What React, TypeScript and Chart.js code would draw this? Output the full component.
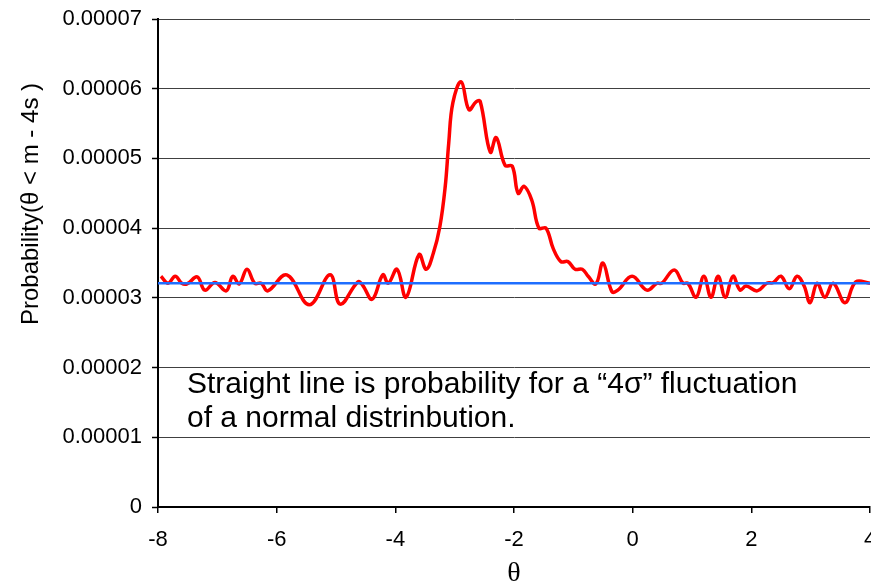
import React, { useEffect, useRef } from 'react';
import { Chart, registerables } from 'chart.js';

Chart.register(...registerables);

// theta values (x) of the red curve
const theta = [
  -7.95, -7.83, -7.71, -7.6, -7.51, -7.34, -7.21, -7.04, -6.85, -6.74,
  -6.63, -6.5, -6.37, -6.26, -6.15, -5.83, -5.45, -5.1, -4.93, -4.63,
  -4.55, -4.39, -4.21, -4.12, -3.97, -3.82, -3.6, -3.48, -3.36, -3.25,
  -3.16, -3.1, -3.03, -2.89, -2.76, -2.64, -2.57, -2.4, -2.3, -2.15,
  -2.03, -1.93, -1.83, -1.7, -1.58, -1.46, -1.34, -1.21, -1.09, -0.97,
  -0.85, -0.75, -0.62, -0.5, -0.35, -0.25, -0.01, 0.24, 0.41, 0.49,
  0.7, 0.85, 0.93, 1.07, 1.2, 1.32, 1.44, 1.56, 1.69, 1.81,
  1.91, 2.1, 2.26, 2.37, 2.5, 2.64, 2.77, 2.89, 2.99, 3.11,
  3.24, 3.38, 3.58, 3.76, 4.0,
];

// probability values in units of 1e-5
const probabilityE5 = [
  3.31, 3.21, 3.31, 3.21, 3.2, 3.3, 3.11, 3.22, 3.1, 3.31,
  3.2, 3.41, 3.21, 3.21, 3.1, 3.33, 2.9, 3.33, 2.91, 3.23,
  3.18, 2.98, 3.33, 3.21, 3.41, 3.01, 3.62, 3.41, 3.64, 4.02,
  4.59, 5.22, 5.8, 6.1, 5.7, 5.81, 5.82, 5.09, 5.3, 4.9,
  4.89, 4.5, 4.6, 4.4, 4.0, 4.0, 3.71, 3.52, 3.52, 3.41,
  3.41, 3.31, 3.2, 3.5, 3.09, 3.11, 3.31, 3.11, 3.21, 3.21,
  3.4, 3.21, 3.21, 3.01, 3.31, 3.01, 3.31, 3.01, 3.31, 3.11,
  3.17, 3.1, 3.21, 3.22, 3.31, 3.13, 3.31, 3.17, 2.93, 3.21,
  3.01, 3.21, 2.93, 3.23, 3.21,
];

// straight line: probability of a 4-sigma fluctuation
const baselineTheta = [-8, 4];
const baselineE5 = [3.21, 3.21];

const UNIT = 1e-5;
const xMin = -8;
const xMax = 4;
const xStep = 2;
const yMax = 7e-5;
const yStep = 1e-5;

const xTitle = 'θ';
const yTitle = 'Probability(θ < m - 4s )';
const noteLines = [
  'Straight line is probability for a \u201C4\u03C3\u201D fluctuation',
  'of a normal distrinbution.',
];

const SANS = '"Liberation Sans", Arial, Helvetica, sans-serif';
const SERIF = '"Liberation Serif", "Times New Roman", serif';

export default function App() {
  const ref = useRef<HTMLCanvasElement>(null);

  useEffect(() => {
    const canvas = ref.current;
    if (!canvas) return;

    const textPlugin = {
      id: 'extraText',
      afterDraw(chart: any) {
        const c = chart.ctx as CanvasRenderingContext2D;
        c.save();
        c.fillStyle = '#000';
        c.font = `30px ${SANS}`;
        c.textAlign = 'left';
        c.textBaseline = 'middle';
        c.fillText(noteLines[0], 187, 385);
        c.fillText(noteLines[1], 187, 419);
        c.translate(31, 204);
        c.rotate(-Math.PI / 2);
        c.textAlign = 'center';
        c.font = `24px ${SANS}`;
        c.fillText(yTitle, 0, 0);
        c.restore();
      },
    };

    const chart = new Chart(canvas, {
      type: 'line',
      data: {
        datasets: [
          {
            data: baselineTheta.map((t, i) => ({ x: t, y: baselineE5[i] * UNIT })),
            borderColor: 'rgb(30,110,255)',
            borderWidth: 2.5,
            pointRadius: 0,
            tension: 0,
          },
          {
            data: theta.map((t, i) => ({ x: t, y: probabilityE5[i] * UNIT })),
            borderColor: '#ff0000',
            borderWidth: 3.5,
            pointRadius: 0,
            tension: 0.4,
          },
        ],
      },
      options: {
        animation: false,
        responsive: false,
        maintainAspectRatio: false,
        layout: { padding: { top: 19, right: 1, left: 0, bottom: 0 } },
        plugins: {
          legend: { display: false },
          tooltip: { enabled: false },
        },
        scales: {
          x: {
            type: 'linear',
            min: xMin,
            max: xMax,
            ticks: {
              stepSize: xStep,
              color: '#000',
              font: { family: SANS, size: 22 },
              padding: 14,
              maxRotation: 0,
              autoSkip: false,
            },
            grid: {
              drawOnChartArea: false,
              drawTicks: true,
              tickLength: 6,
              color: '#000',
              lineWidth: 1.5,
            },
            border: { color: '#000', width: 2 },
            title: {
              display: true,
              text: xTitle,
              color: '#000',
              font: { family: SERIF, size: 28, lineHeight: 0.7 },
              padding: 0,
            },
            afterFit: (s: any) => {
              s.height = 76;
              s.paddingLeft = 0;
              s.paddingRight = 0;
            },
          },
          y: {
            type: 'linear',
            min: 0,
            max: yMax,
            ticks: {
              stepSize: yStep,
              color: '#000',
              font: { family: SANS, size: 22 },
              padding: 10,
              callback: (v: any) => (Number(v) === 0 ? '0' : Number(v).toFixed(5)),
            },
            grid: {
              color: '#404040',
              lineWidth: 1,
              tickLength: 6,
              tickColor: '#000',
              tickWidth: 1.5,
            },
            border: { color: '#000', width: 2 },
            afterFit: (s: any) => {
              s.width = 158;
              s.paddingTop = 0;
              s.paddingBottom = 0;
            },
          },
        },
      },
      plugins: [textPlugin],
    } as any);

    return () => chart.destroy();
  }, []);

  return (
    <div
      style={{
        position: 'fixed',
        left: 0,
        top: 0,
        width: 871,
        height: 583,
        overflow: 'hidden',
        background: '#fff',
      }}
    >
      <canvas ref={ref} width={871} height={583} style={{ display: 'block', width: 871, height: 583 }} />
    </div>
  );
}
